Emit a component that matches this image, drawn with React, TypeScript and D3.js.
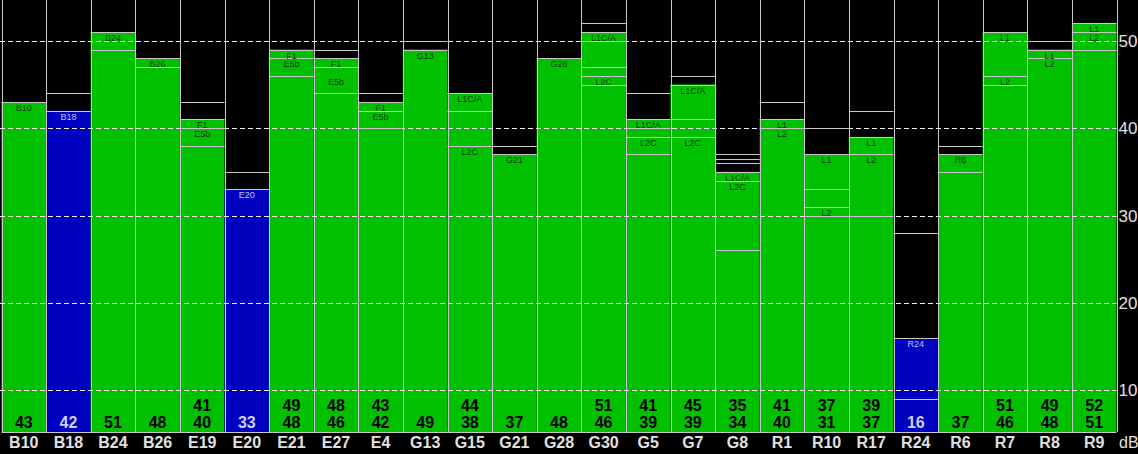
import React, { useEffect, useRef } from "react";
import * as d3 from "d3";

// station names along the bottom
const stations = [
  "B10", "B18", "B24", "B26", "E19", "E20", "E21", "E27", "E4", "G13",
  "G15", "G21", "G28", "G30", "G5", "G7", "G8", "R1", "R10", "R17",
  "R24", "R6", "R7", "R8", "R9",
];

// stations drawn in blue instead of green
const blueStations = ["B18", "E20", "R24"];

// top of the coloured fill (dB)
const fillTop = [
  43, 42, 51, 48, 41, 33, 49, 48, 43, 49,
  44, 37, 48, 51, 41, 45, 35, 41, 37, 39,
  16, 37, 51, 49, 52,
];

// horizontal level lines per station (dB)
const levels = [
  [43], [44, 42], [51, 49], [48, 47], [43, 41, 40, 38],
  [35, 33], [49, 48, 46], [49, 48, 47, 44], [44, 43, 42, 40], [50, 49],
  [44, 42, 38], [38, 37], [48], [52, 51, 50, 47, 46, 45], [44, 41, 40, 39, 37],
  [46, 45, 41, 39], [37, 36.5, 36, 35, 34, 26], [43, 41, 40], [40, 37, 33, 31, 30], [42, 39, 37, 30],
  [28, 16, 9], [38, 37, 35], [51, 46, 45], [50, 49, 48], [52, 51, 49],
];

// small labels inside the bars: [text, level]
const segLabels: [string, number][][] = [
  [["B10", 43]], [["B18", 42]], [["B24", 51]], [["B26", 48]], [["F1", 41], ["E5b", 40]],
  [["E20", 33]], [["F1", 49], ["E5b", 48]], [["F1", 48], ["E5b", 46]], [["F1", 43], ["E5b", 42]], [["G13", 49]],
  [["L1C/A", 44], ["L2C", 38]], [["G21", 37]], [["G28", 48]], [["L1C/A", 51], ["L2C", 46]], [["L1C/A", 41], ["L2C", 39]],
  [["L1C/A", 45], ["L2C", 39]], [["L1C/A", 35], ["L2C", 34]], [["L1", 41], ["L2", 40]], [["L1", 37], ["L2", 31]], [["L1", 39], ["L2", 37]],
  [["R24", 16]], [["R6", 37]], [["L1", 51], ["L2", 46]], [["L1", 49], ["L2", 48]], [["L1", 52], ["L2", 51]],
];

// readings printed at the bottom of each bar
const readings = [
  ["43"], ["42"], ["51"], ["48"], ["41", "40"],
  ["33"], ["49", "48"], ["48", "46"], ["43", "42"], ["49"],
  ["44", "38"], ["37"], ["48"], ["51", "46"], ["41", "39"],
  ["45", "39"], ["35", "34"], ["41", "40"], ["37", "31"], ["39", "37"],
  ["16"], ["37"], ["51", "46"], ["49", "48"], ["52", "51"],
];

const yTicks = [10, 20, 30, 40, 50];

const App: React.FC = () => {
  const ref = useRef<SVGSVGElement | null>(null);

  useEffect(() => {
    const width = 1138;
    const height = 454;
    const plotLeft = 1.5;
    const plotRight = 1116.5;
    const plotBottom = 432;
    const green = "#00c000";
    const blue = "#0000c0";
    const lineColor = "#c8c8c8";
    const font = "'Liberation Sans', Arial, sans-serif";

    const svg = d3.select(ref.current);
    svg.selectAll("*").remove();

    const x = d3.scaleBand<string>().domain(stations).range([plotLeft, plotRight]);
    const y = d3.scaleLinear().domain([10, 50]).range([390.2, 40.85]);
    const bw = x.bandwidth();
    const py = (v: number) => Math.round(y(v)) + 0.5;

    svg.append("rect").attr("width", width).attr("height", height).attr("fill", "#000");

    // fills
    svg
      .append("g")
      .selectAll("rect")
      .data(stations)
      .enter()
      .append("rect")
      .attr("x", (d) => x(d) || 0)
      .attr("y", (d, i) => y(fillTop[i]))
      .attr("width", bw)
      .attr("height", (d, i) => plotBottom - y(fillTop[i]))
      .attr("fill", (d) => (blueStations.includes(d) ? blue : green));

    // dashed grid
    svg
      .append("g")
      .selectAll("line")
      .data(yTicks)
      .enter()
      .append("line")
      .attr("x1", 0)
      .attr("x2", plotRight)
      .attr("y1", (d) => py(d))
      .attr("y2", (d) => py(d))
      .attr("stroke", "#f0f0f0")
      .attr("stroke-dasharray", "5,3");

    // level lines
    const lv = svg.append("g");
    stations.forEach((s, i) => {
      lv.selectAll(null)
        .data(levels[i])
        .enter()
        .append("line")
        .attr("x1", x(s) || 0)
        .attr("x2", (x(s) || 0) + bw)
        .attr("y1", (d) => py(d))
        .attr("y2", (d) => py(d))
        .attr("stroke", lineColor);
    });

    // column borders
    const edges = stations.map((s) => x(s) || 0).concat([plotRight]);
    svg
      .append("g")
      .selectAll("line")
      .data(edges)
      .enter()
      .append("line")
      .attr("x1", (d) => Math.round(d) + 0.5)
      .attr("x2", (d) => Math.round(d) + 0.5)
      .attr("y1", 0)
      .attr("y2", plotBottom)
      .attr("stroke", lineColor);

    svg
      .append("line")
      .attr("x1", plotLeft)
      .attr("x2", plotRight)
      .attr("y1", plotBottom + 0.5)
      .attr("y2", plotBottom + 0.5)
      .attr("stroke", lineColor);

    // segment labels
    const lb = svg.append("g").attr("font-family", font).attr("font-size", 9).attr("text-anchor", "middle");
    stations.forEach((s, i) => {
      const isBlue = blueStations.includes(s);
      lb.selectAll(null)
        .data(segLabels[i])
        .enter()
        .append("text")
        .attr("x", (x(s) || 0) + bw / 2)
        .attr("y", (d) => py(d[1]) + 8.5)
        .attr("fill", isBlue ? "#c0c0ff" : "#0c3c0c")
        .text((d) => d[0]);
    });

    // bottom readings
    const rd = svg
      .append("g")
      .attr("font-family", font)
      .attr("font-size", 16)
      .attr("font-weight", "bold")
      .attr("text-anchor", "middle");
    stations.forEach((s, i) => {
      const isBlue = blueStations.includes(s);
      const rows = readings[i].length === 2 ? [405, 422] : [422];
      rd.selectAll(null)
        .data(readings[i])
        .enter()
        .append("text")
        .attr("x", (x(s) || 0) + bw / 2)
        .attr("y", (d, j) => rows[j])
        .attr("dy", "0.36em")
        .attr("fill", isBlue ? "#d0d0ff" : "#000")
        .text((d) => d);
    });

    // station names
    svg
      .append("g")
      .attr("font-family", font)
      .attr("font-size", 16)
      .attr("font-weight", "bold")
      .attr("text-anchor", "middle")
      .selectAll("text")
      .data(stations)
      .enter()
      .append("text")
      .attr("x", (d) => (x(d) || 0) + bw / 2)
      .attr("y", 442)
      .attr("dy", "0.36em")
      .attr("fill", "#e0e0e0")
      .text((d) => d);

    // right axis labels
    svg
      .append("g")
      .attr("font-family", font)
      .attr("font-size", 17)
      .selectAll("text")
      .data(yTicks)
      .enter()
      .append("text")
      .attr("x", plotRight + 2)
      .attr("y", (d) => y(d))
      .attr("dy", "0.36em")
      .attr("fill", "#e0e0e0")
      .text((d) => d);

    svg
      .append("text")
      .attr("x", plotRight + 2.5)
      .attr("y", 442)
      .attr("dy", "0.36em")
      .attr("font-family", font)
      .attr("font-size", 16)
      .attr("fill", "#e0e0e0")
      .text("dB");
  }, []);

  return (
    <svg
      ref={ref}
      width={1138}
      height={454}
      style={{ position: "absolute", left: 0, top: 0, display: "block" }}
    ></svg>
  );
};

export default App;
